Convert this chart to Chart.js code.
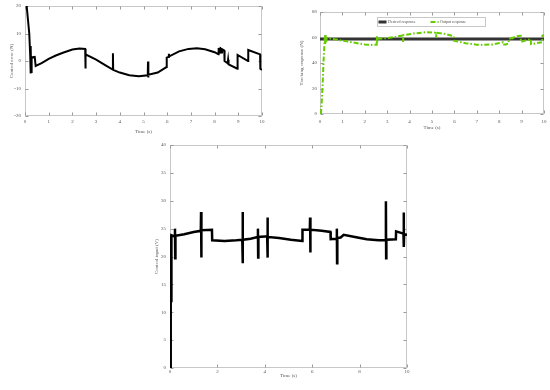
<!DOCTYPE html>
<html><head><meta charset="utf-8">
<script src="https://cdn.jsdelivr.net/npm/chart.js@4.4.1/dist/chart.umd.min.js"></script>
<style>
html,body{margin:0;padding:0;background:#fff;}
#wrap{position:relative;width:550px;height:390px;overflow:hidden;background:#fff;}
canvas{position:absolute;}
</style></head><body>
<div id="wrap">
<canvas id="c1" width="275" height="140" style="left:0;top:0;width:275px;height:140px"></canvas>
<canvas id="c2" width="275" height="140" style="left:275px;top:0;width:275px;height:140px"></canvas>
<canvas id="c3" width="270" height="260" style="left:150px;top:130px;width:270px;height:260px"></canvas>
</div>
<script>
// ---- Control error (top-left) ----
const errT = [0.07,0.18,0.22,0.23,0.24,0.25,0.26,0.28,0.41,0.45,0.7,1.0,1.3,1.6,2.0,2.3,2.54,2.55,2.56,2.6,3.0,3.4,3.7,3.71,3.72,4.0,4.4,4.8,5.18,5.19,5.2,5.21,5.6,5.97,5.98,6.05,6.07,6.09,6.5,6.9,7.25,7.6,8.0,8.16,8.17,8.24,8.25,8.27,8.3,8.31,8.33,8.41,8.42,8.55,8.57,8.59,8.96,8.97,9.41,9.42,9.92,9.93,10.0];
const errV = [20,10,2,5.5,-4.5,5,-4,1.3,1.5,-1.8,-0.8,0.8,2.0,3.0,4.2,4.5,4.4,-2.7,2.6,2.2,0.5,-1.6,-3.1,2.8,-3.2,-4.2,-5.2,-5.5,-5.2,-0.2,-6.0,-5.0,-4.2,-2.2,1.2,1.5,2.6,1.7,3.5,4.4,4.6,4.3,3.2,2.5,4.4,4.5,2.7,4.5,4.2,2.8,4.2,3.8,0,-0.8,0.5,-1.2,-2.8,2.2,0,4,2.4,-2.8,-3.2];

// ---- Tracking response (top-right) ----
const desT = [0,10];
const desV = [58.8,58.8];
const outT = [0.04,0.08,0.12,0.16,0.19,0.21,0.22,0.23,0.25,0.27,0.3,0.4,0.5,1.0,1.5,2.0,2.3,2.53,2.54,2.55,2.56,3.0,3.4,3.7,3.71,3.72,4.2,4.75,5.18,5.19,5.2,5.21,5.6,5.97,5.98,6.05,6.5,7.0,7.25,7.7,8.16,8.17,8.3,8.42,8.43,8.6,8.63,8.66,8.85,8.96,8.97,9.2,9.41,9.42,9.92,9.93,10.0];
const outV = [0,10,24,42,52,59,62,55,62,56,59.5,59.5,59,57.6,56,54.6,54.2,54.3,61,56,59,59.5,60.6,61.6,56.5,61.8,63.2,64.2,63.8,60,64.6,63.7,62.8,61,57.5,57.2,55.5,54.4,54.2,54.6,56.2,54.5,54.6,55.3,58.8,59.8,58.5,60.2,61.2,61.3,56.6,57.8,58.8,54.8,56.3,61.5,61.8];

// ---- Control input (bottom) ----
const inT = [0.03,0.03,0.05,0.06,0.2,0.21,0.22,0.23,0.6,1.0,1.3,1.31,1.32,1.33,1.77,1.78,2.3,2.8,3.05,3.06,3.07,3.08,3.4,3.7,3.71,3.72,3.73,4.0,4.1,4.11,4.12,4.13,4.6,5.1,5.58,5.59,5.9,5.91,5.92,5.93,6.4,6.77,6.78,7.0,7.03,7.04,7.05,7.06,7.2,7.33,7.8,8.3,8.8,9.1,9.11,9.12,9.13,9.53,9.54,9.85,9.86,9.87,9.88,10.0];
const inV = [0,23.8,12,23.8,23.6,25,19.7,23.7,24.0,24.4,24.6,28,19.8,24.7,24.8,22.9,22.8,22.9,23.0,28,18.8,23.0,23.2,23.5,25,19.8,23.5,23.6,23.6,27,19.8,23.5,23.3,23.0,22.8,24.8,24.8,27,20.7,24.8,24.6,24.4,23.1,23.2,23.2,25,18.8,23.3,23.4,23.9,23.5,23.1,22.9,22.9,29.9,19.7,23.0,23.1,24.5,24.1,27.9,21.7,24.0,23.9];

const FONT = '"Liberation Serif", "Times New Roman", serif';
const TXT = '#555';
Chart.defaults.font.family = FONT;

function pts(t, v){ return t.map((x,i)=>({x:x, y:v[i]})); }

const framePlugin = {
  id:'frame',
  beforeDatasetsDraw(chart){
    const {ctx, chartArea:a, scales:{x,y}} = chart;
    ctx.save();
    ctx.strokeStyle = '#c8c8c8'; ctx.lineWidth = 1;
    const L = Math.round(a.left)+0.5, T = Math.round(a.top)+0.5, R = Math.round(a.right)-0.5, B = Math.round(a.bottom)-0.5;
    ctx.strokeRect(L, T, R-L, B-T);
    ctx.strokeStyle = '#9a9a9a';
    ctx.beginPath();
    x.ticks.forEach(t=>{
      const px = Math.round(x.getPixelForValue(t.value))+0.5;
      ctx.moveTo(px,B); ctx.lineTo(px,B-3);
      ctx.moveTo(px,T); ctx.lineTo(px,T+3);
    });
    y.ticks.forEach(t=>{
      const py = Math.round(y.getPixelForValue(t.value))+0.5;
      ctx.moveTo(L,py); ctx.lineTo(L+3,py);
      ctx.moveTo(R,py); ctx.lineTo(R-3,py);
    });
    ctx.stroke();
    ctx.restore();
  }
};

const boxLegend = {
  id:'boxLegend',
  afterDatasetsDraw(chart, args, o){
    if(!o || !o.show) return;
    const {ctx, chartArea:a} = chart;
    const bx = Math.round(a.left + o.offsetX)+0.5, by = Math.round(a.top + o.offsetY)+0.5;
    ctx.save();
    ctx.fillStyle = '#fff'; ctx.fillRect(bx, by, o.w, o.h);
    ctx.strokeStyle = '#c8c8c8'; ctx.lineWidth = 1; ctx.strokeRect(bx, by, o.w, o.h);
    const cy = by + o.h/2;
    chart.data.datasets.forEach((ds,i)=>{
      const sx = bx + o.itemX[i];
      ctx.strokeStyle = ds.borderColor; ctx.lineWidth = ds.borderWidth;
      ctx.setLineDash(ds.borderDash || []);
      ctx.beginPath(); ctx.moveTo(sx, cy); ctx.lineTo(sx + o.sample, cy); ctx.stroke();
      ctx.setLineDash([]);
      ctx.fillStyle = TXT; ctx.font = '4px ' + FONT; ctx.textBaseline = 'middle'; ctx.textAlign = 'left';
      ctx.fillText(ds.label, sx + o.sample + 1.5, cy - 0.5);
    });
    ctx.restore();
  }
};

function scales(c){
  return {
    x: {
      type:'linear', min:0, max:10,
      grid:{display:false, drawTicks:false}, border:{display:false},
      ticks:{stepSize:c.xStep, padding:c.xTickPad, color:TXT, font:{size:5, family:FONT}, maxRotation:0, autoSkip:false},
      title:{display:true, text:'Time (s)', color:TXT, font:{size:5, family:FONT}, padding:{top:0, bottom:c.xTitlePad}},
      afterFit(s){ s.height = c.xH; s.paddingLeft = 0; s.paddingRight = 0; }
    },
    y: {
      type:'linear', min:c.yMin, max:c.yMax,
      grid:{display:false, drawTicks:false}, border:{display:false},
      ticks:{stepSize:c.yStep, padding:c.yTickPad, color:TXT, font:{size:5, family:FONT}},
      title:{display:true, text:c.yTitle, color:TXT, font:{size:5, family:FONT}, padding:{top:c.yTitlePad, bottom:0}},
      afterFit(s){ s.width = c.yW; s.paddingTop = 0; s.paddingBottom = 0; }
    }
  };
}

const common = {
  responsive:false, animation:false, devicePixelRatio:1,
  elements:{point:{radius:0}, line:{tension:0, borderJoinStyle:'miter', borderCapStyle:'butt'}},
};

new Chart(document.getElementById('c1'), {
  type:'line',
  data:{datasets:[{label:'Control error', data:pts(errT,errV), borderColor:'#000', borderWidth:2, fill:false}]},
  options:Object.assign({}, common, {
    layout:{padding:{left:0, top:6, right:13, bottom:0}},
    plugins:{legend:{display:false}, tooltip:{enabled:false}},
    scales:scales({xStep:1, xTickPad:3, xTitlePad:5, xH:24, yMin:-20, yMax:20, yStep:10, yTickPad:4, yTitle:'Control error (N)', yTitlePad:9, yW:25})
  }),
  plugins:[framePlugin]
});

new Chart(document.getElementById('c2'), {
  type:'line',
  data:{datasets:[
    {label:'Desired response', data:pts(desT,desV), borderColor:'#333333', borderWidth:3, fill:false, order:1},
    {label:'Output response', data:pts(outT,outV), borderColor:'#66cc00', borderWidth:2, borderDash:[5,2,1.5,2], fill:false, order:0}
  ]},
  options:Object.assign({}, common, {
    layout:{padding:{left:0, top:12, right:6, bottom:0}},
    plugins:{legend:{display:false}, tooltip:{enabled:false},
      boxLegend:{show:true, offsetX:57, offsetY:5, w:108, h:9, sample:8, itemX:[1,53]}},
    scales:scales({xStep:1, xTickPad:4.5, xTitlePad:9, xH:26, yMin:0, yMax:80, yStep:20, yTickPad:3, yTitle:'Tracking response (N)', yTitlePad:24, yW:45})
  }),
  plugins:[framePlugin, boxLegend]
});

new Chart(document.getElementById('c3'), {
  type:'line',
  data:{datasets:[{label:'Control input', data:pts(inT,inV), borderColor:'#000', borderWidth:2.5, fill:false}]},
  options:Object.assign({}, common, {
    layout:{padding:{left:0, top:15, right:13, bottom:0}},
    plugins:{legend:{display:false}, tooltip:{enabled:false}},
    scales:scales({xStep:2, xTickPad:1, xTitlePad:11, xH:22, yMin:0, yMax:40, yStep:5, yTickPad:4, yTitle:'Control input (V)', yTitlePad:4, yW:20})
  }),
  plugins:[framePlugin]
});
</script>
</body></html>
